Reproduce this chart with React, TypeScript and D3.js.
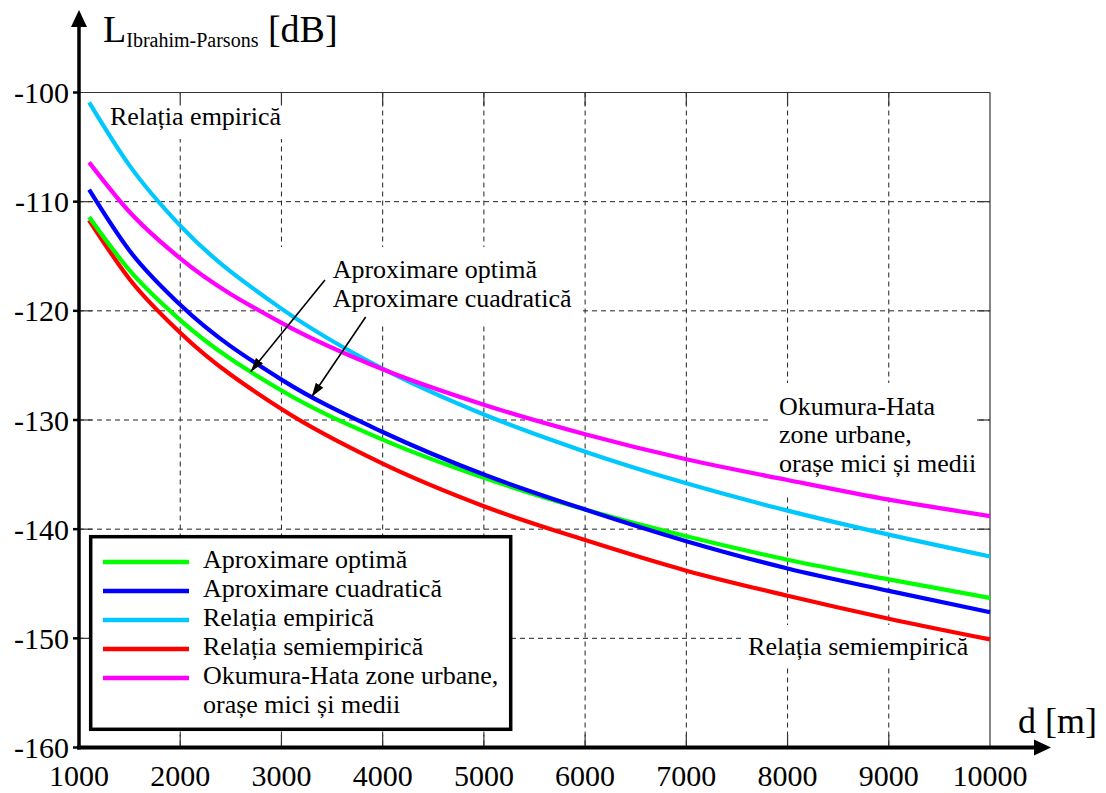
import React from "react";
import * as d3 from "d3";

// Distance samples [m]
const distances = [1100, 1500, 2000, 3000, 4000, 5000, 6000, 7000, 8000, 9000, 10000];

// Path loss [dB] for each model
const aproximareOptima = [-111.4, -116.3, -120.85, -127.3, -131.8, -135.3, -138.2, -140.65, -142.8, -144.6, -146.3];
const aproximareCuadratica = [-108.9, -114.5, -119.45, -126.3, -131.1, -135.0, -138.2, -141.1, -143.6, -145.65, -147.6];
const relatiaEmpirica = [-100.9, -106.7, -112.2, -119.8, -125.3, -129.5, -132.9, -135.8, -138.3, -140.5, -142.5];
const relatiaSemiempirica = [-111.7, -117.1, -122.0, -129.0, -134.0, -137.9, -141.0, -143.8, -146.1, -148.2, -150.1];
const okumuraHata = [-106.4, -110.95, -115.2, -121.1, -125.35, -128.6, -131.3, -133.6, -135.5, -137.3, -138.8];

const xTicks = [1000, 2000, 3000, 4000, 5000, 6000, 7000, 8000, 9000, 10000];
const yTicks = [-100, -110, -120, -130, -140, -150, -160];

const seriesNames = [
  "Aproximare optimă",
  "Aproximare cuadratică",
  "Relația empirică",
  "Relația semiempirică",
  "Okumura-Hata zone urbane,",
];
const seriesColors = ["#00ff00", "#0000ff", "#00c8ff", "#ff0000", "#ff00ff"];
const seriesValues = [aproximareOptima, aproximareCuadratica, relatiaEmpirica, relatiaSemiempirica, okumuraHata];
// drawing order: back to front
const drawOrder = [2, 4, 3, 0, 1];

const FONT = "'Liberation Serif', 'Times New Roman', serif";

export default function App() {
  const W = 1106;
  const H = 793;
  const x = d3.scaleLinear().domain([1000, 10000]).range([79, 990]);
  const y = d3.scaleLinear().domain([-160, -100]).range([747.5, 92.5]);

  const line = d3
    .line<[number, number]>()
    .x((d) => x(d[0]))
    .y((d) => y(d[1]))
    .curve(d3.curveMonotoneX);

  const x0 = x(1000), x1 = x(10000), y0 = y(-160), y1 = y(-100);
  const tickLen = 13;

  // white boxes behind in-plot labels (data units)
  const boxes = [
    { d0: 1207, d1: 3085, v0: -100.15, v1: -104.26 },
    { d0: 2986, d1: 5950, v0: -114.15, v1: -121.11 },
    { d0: 7827, d1: 9852, v0: -126.61, v1: -137.05 },
    { d0: 7560, d1: 9852, v0: -148.78, v1: -152.72 },
  ];

  const arrows = [
    { from: [3430, -117.17], to: [2696, -125.57] },
    { from: [3832, -120.56], to: [3299, -127.87] },
  ];

  const legendX = 90.7, legendY = 536.7, legendW = 420, legendH = 192.6;
  const rowH = 29;

  return (
    <svg
      width={W}
      height={H}
      viewBox={`0 0 ${W} ${H}`}
      style={{ position: "absolute", left: 0, top: 0, background: "#fff", fontFamily: FONT }}
    >
      <defs>
        <marker id="ah" viewBox="0 0 14 10" refX="14" refY="5" markerWidth="14" markerHeight="10" orient="auto" markerUnits="userSpaceOnUse">
          <path d="M0,0.5 L14,5 L0,9.5 Z" fill="#000" />
        </marker>
      </defs>
      <rect x={0} y={0} width={W} height={H} fill="#fff" />

      {/* dashed grid */}
      <g stroke="#222" strokeWidth={1} strokeDasharray="5,4">
        {xTicks.slice(1, -1).map((t) => (
          <line key={"gx" + t} x1={x(t)} x2={x(t)} y1={y1} y2={y0} />
        ))}
        {yTicks.slice(1, -1).map((t) => (
          <line key={"gy" + t} x1={x0} x2={x1} y1={y(t)} y2={y(t)} />
        ))}
      </g>

      {/* label backgrounds */}
      {boxes.map((b, i) => (
        <rect key={"b" + i} x={x(b.d0)} y={y(b.v0)} width={x(b.d1) - x(b.d0)} height={y(b.v1) - y(b.v0)} fill="#fff" />
      ))}

      {/* top and right frame with inward ticks */}
      <g stroke="#333" strokeWidth={1.2} fill="none">
        <line x1={x0} x2={x1} y1={y1} y2={y1} />
        <line x1={x1} x2={x1} y1={y1} y2={y0} />
        {xTicks.slice(1, -1).map((t) => (
          <g key={"tx" + t}>
            <line x1={x(t)} x2={x(t)} y1={y1} y2={y1 + tickLen} />
            <line x1={x(t)} x2={x(t)} y1={y0} y2={y0 - tickLen} />
          </g>
        ))}
        {yTicks.slice(1, -1).map((t) => (
          <g key={"ty" + t}>
            <line x1={x0} x2={x0 + tickLen} y1={y(t)} y2={y(t)} />
            <line x1={x1} x2={x1 - tickLen} y1={y(t)} y2={y(t)} />
          </g>
        ))}
      </g>

      {/* curves */}
      {drawOrder.map((i) => (
        <path
          key={"s" + i}
          d={line(distances.map((dv, k) => [dv, seriesValues[i][k]] as [number, number])) || ""}
          fill="none"
          stroke={seriesColors[i]}
          strokeWidth={4.2}
          strokeLinecap="butt"
        />
      ))}

      {/* axes */}
      <line x1={x0} x2={x0} y1={y0 + 2} y2={22} stroke="#000" strokeWidth={3.5} />
      <path d={`M${x0},10 L${x0 - 8},27 L${x0 + 8},27 Z`} fill="#000" />
      <line x1={x0 - 2} x2={1036} y1={y0} y2={y0} stroke="#000" strokeWidth={4} />
      <path d={`M1051,${y0} L1034,${y0 - 8} L1034,${y0 + 8} Z`} fill="#000" />
      {yTicks.map((t) => (
        <line key={"oy" + t} x1={x0 - 6} x2={x0} y1={y(t)} y2={y(t)} stroke="#000" strokeWidth={2.5} />
      ))}

      {/* tick labels */}
      <g fontSize={30} fill="#000">
        {xTicks.map((t) => (
          <text key={"lx" + t} x={x(t)} y={786} textAnchor="middle">
            {t}
          </text>
        ))}
        {yTicks.map((t) => (
          <text key={"ly" + t} x={69} y={y(t)} textAnchor="end" dominantBaseline="central">
            {t}
          </text>
        ))}
      </g>

      {/* axis titles */}
      <text x={103} y={42} fontSize={38} fill="#000">
        L<tspan fontSize={20} dy={5}>Ibrahim-Parsons</tspan>
        <tspan dy={-5}> [dB]</tspan>
      </text>
      <text x={1018} y={733} fontSize={36} fill="#000">
        d [m]
      </text>

      {/* in-plot annotations */}
      <g fontSize={26} fill="#000">
        <text x={x(1306)} y={y(-102.98)}>Relația empirică</text>
        <text x={x(3506)} y={y(-116.99)}>Aproximare optimă</text>
        <text x={x(3506)} y={y(-119.65)}>Aproximare cuadratică</text>
        <text x={x(7916)} y={y(-129.54)}>Okumura-Hata</text>
        <text x={x(7916)} y={y(-132.11)}>zone urbane,</text>
        <text x={x(7916)} y={y(-134.76)}>orașe mici și medii</text>
        <text x={x(7610)} y={y(-151.52)}>Relația semiempirică</text>
      </g>
      {arrows.map((a, i) => (
        <line
          key={"a" + i}
          x1={x(a.from[0])}
          y1={y(a.from[1])}
          x2={x(a.to[0])}
          y2={y(a.to[1])}
          stroke="#000"
          strokeWidth={1.6}
          markerEnd="url(#ah)"
        />
      ))}

      {/* legend */}
      <rect x={legendX} y={legendY} width={legendW} height={legendH} fill="#fff" stroke="#000" strokeWidth={3.5} />
      {seriesNames.map((n, i) => (
        <g key={"lg" + i}>
          <line x1={103} x2={189} y1={568 + i * rowH - 6} y2={568 + i * rowH - 6} stroke={seriesColors[i]} strokeWidth={4.5} />
          <text x={203} y={568 + i * rowH} fontSize={26} fill="#000">
            {n}
          </text>
        </g>
      ))}
      <text x={203} y={568 + 5 * rowH} fontSize={26} fill="#000">
        orașe mici și medii
      </text>
    </svg>
  );
}
